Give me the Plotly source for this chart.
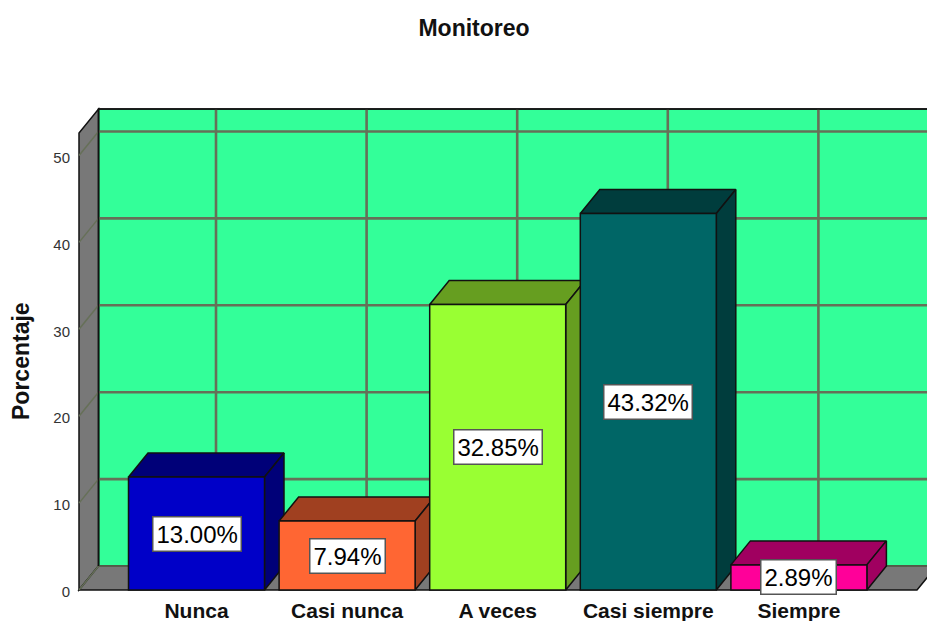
import plotly.graph_objects as go

categories = ["Nunca", "Casi nunca", "A veces", "Casi siempre", "Siempre"]
values = [13.00, 7.94, 32.85, 43.32, 2.89]
value_labels = ["13.00%", "7.94%", "32.85%", "43.32%", "2.89%"]
y_ticks = [0, 10, 20, 30, 40, 50]
front_colors = ["#0000C8", "#FF6633", "#99FF33", "#006666", "#FF0099"]
shade_colors = ["#000078", "#A04020", "#669E20", "#003D3D", "#A00060"]

WALL = "#33FF99"
SIDE = "#787878"
GRID = "#667058"
FONT = "Liberation Sans"

W, H = 927, 621
PX_X = 150.6          # px per category
PX_Y = 8.69           # px per percent
X0_PX, Y0_PX = 196.5, 590.0
L, R, T, B = 72, 927, 100, 595
xr = [(L - X0_PX) / PX_X, (R - X0_PX) / PX_X]
yr = [(Y0_PX - B) / PX_Y, (Y0_PX - T) / PX_Y]
DX = 19.5 / PX_X      # depth in x units
DY = 24.0 / PX_Y      # depth in y units
BW = 136.0 / PX_X     # bar width
X_FRONT_L = (79 - X0_PX) / PX_X
X_FRONT_R = (917 - X0_PX) / PX_X
Y_TOP = (566 - 109) / PX_Y   # wall height

fig = go.Figure()
shapes = []


def poly(xs, ys, fill, lw=1.5, color="#111111"):
    path = "M" + "L".join(f"{x},{y}" for x, y in zip(xs, ys)) + "Z"
    shapes.append(dict(type="path", path=path, fillcolor=fill, layer="below",
                       line=dict(color=color, width=lw)))


def seg(x0, y0, x1, y1, color=GRID, width=2.6):
    shapes.append(dict(type="line", x0=x0, y0=y0, x1=x1, y1=y1, layer="below",
                       line=dict(color=color, width=width)))


# back wall, left wall, floor
bl, br = X_FRONT_L + DX, X_FRONT_R + DX
poly([bl, br + 1, br + 1, bl], [DY, DY, DY + Y_TOP, DY + Y_TOP], WALL)
poly([X_FRONT_L, bl, bl, X_FRONT_L], [0, DY, DY + Y_TOP, Y_TOP], SIDE)
poly([X_FRONT_L, X_FRONT_R, br, bl], [0, 0, DY, DY], SIDE)
# grid
for t in y_ticks[1:]:
    seg(bl, t + DY, br + 1, t + DY)
    seg(X_FRONT_L, t, bl, t + DY, width=1.5)
seg(X_FRONT_L, 0, bl, DY, width=1.5)
seg(bl, DY, br, DY, width=1.5)
for i in range(len(categories)):
    seg(i + DX, DY, i + DX, DY + Y_TOP)
# redraw outline of walls over the grid
seg(bl, DY + Y_TOP, br + 1, DY + Y_TOP, color="#111111", width=1.5)
seg(bl, DY, bl, DY + Y_TOP, color="#111111", width=1.5)

# extruded faces on the base axes
for i, v in enumerate(values):
    xl, xh = i - BW / 2, i + BW / 2
    fig.add_trace(go.Scatter(
        x=[xl, xh, xh + DX, xl + DX, xl], y=[v, v, v + DY, v + DY, v],
        mode="lines", fill="toself", fillcolor=shade_colors[i],
        line=dict(color="#111111", width=1.5), showlegend=False, hoverinfo="skip"))
    fig.add_trace(go.Scatter(
        x=[xh, xh + DX, xh + DX, xh, xh], y=[0, DY, v + DY, v, 0],
        mode="lines", fill="toself", fillcolor=shade_colors[i],
        line=dict(color="#111111", width=1.5), showlegend=False, hoverinfo="skip"))

# front faces on overlay axes, above every extruded face
fig.add_trace(go.Bar(
    x=list(range(len(categories))), y=values, width=BW, xaxis="x2", yaxis="y2",
    marker=dict(color=front_colors, line=dict(color="#111111", width=1.5)),
    showlegend=False, hovertext=categories))

for i, v in enumerate(values):
    fig.add_annotation(x=i, y=v / 2, xref="x", yref="y", text=value_labels[i], showarrow=False,
                       font=dict(family=FONT, size=24, color="#000000"),
                       bgcolor="white", bordercolor="#555555", borderwidth=1.5, borderpad=3)

fig.add_annotation(xref="paper", yref="paper", x=(21 - L) / (R - L), y=(B - 361) / (B - T),
                   xanchor="center", yanchor="middle",
                   text="Porcentaje", textangle=-90, showarrow=False,
                   font=dict(family=FONT, size=23, color="#111111", weight=700))

fig.update_layout(
    width=W, height=H, autosize=False,
    margin=dict(l=L, r=W - R, t=T, b=H - B),
    paper_bgcolor="white", plot_bgcolor="white", showlegend=False, shapes=shapes,
    title=dict(text="Monitoreo", x=474 / W, y=1 - 28 / H, xanchor="center", yanchor="middle",
               font=dict(family=FONT, size=23, color="#111111", weight=700)),
    xaxis=dict(range=xr, tickmode="array", tickvals=list(range(len(categories))), ticktext=categories,
               showgrid=False, zeroline=False, showline=False, ticks="", ticklabelstandoff=1,
               tickfont=dict(family=FONT, size=21, color="#111111", weight=700)),
    yaxis=dict(range=yr, tickmode="array", tickvals=y_ticks, showgrid=False, zeroline=False,
               showline=False, ticks="", ticklabelshift=2, ticklabelstandoff=1,
               tickfont=dict(family=FONT, size=15, color="#333333")),
    xaxis2=dict(range=xr, overlaying="x", visible=False, anchor="y2"),
    yaxis2=dict(range=yr, overlaying="y", visible=False, anchor="x2"),
)

fig.write_html("out.html", config={"displayModeBar": False},
               post_script="document.body.style.margin='0';")
